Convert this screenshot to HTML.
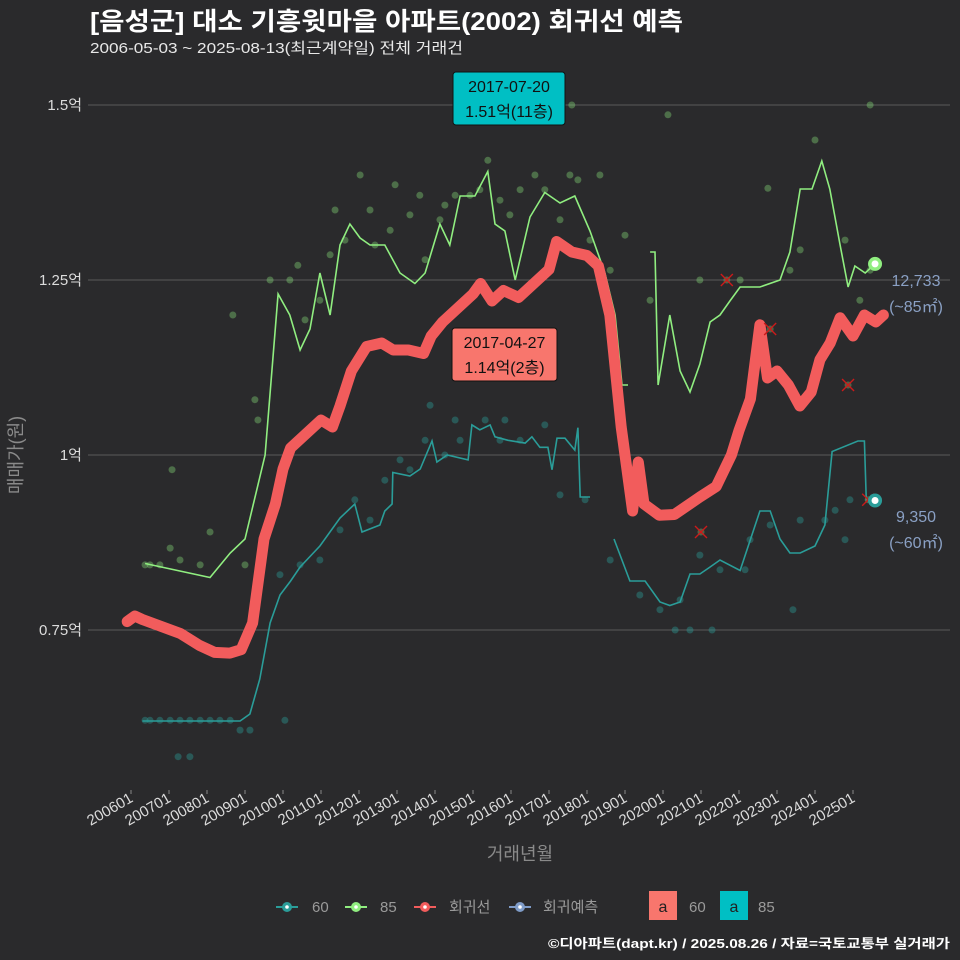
<!DOCTYPE html>
<html><head><meta charset="utf-8">
<style>
html,body{margin:0;padding:0;background:#2a2a2c;}
svg{display:block;font-family:"Liberation Sans","Noto Sans CJK KR",sans-serif;}
</style></head>
<body>
<svg id="chart" width="960" height="960" viewBox="0 0 960 960" xmlns="http://www.w3.org/2000/svg">
<rect width="960" height="960" fill="#2a2a2c"/>
<text x="90" y="30" font-size="25" font-weight="bold" fill="#ffffff" textLength="593" lengthAdjust="spacingAndGlyphs">[음성군] 대소 기흥윗마을 아파트(2002) 회귀선 예측</text>
<text x="90" y="53" font-size="15" fill="#e8e8e8" textLength="373" lengthAdjust="spacingAndGlyphs">2006-05-03 ~ 2025-08-13(최근계약일) 전체 거래건</text>
<g id="grid"></g>
<g id="yaxis"></g>
<g id="xaxis"></g>
<text transform="translate(22,455) rotate(-90)" text-anchor="middle" font-size="18" fill="#8a8a8a">매매가(원)</text>
<text x="520" y="860" text-anchor="middle" font-size="18" fill="#8a8a8a">거래년월</text>
<g id="marks"></g>
<g font-size="15" fill="#9a9a9a">
  <g><line x1="276" y1="907" x2="298" y2="907" stroke="#2a9d99" stroke-width="2"/><circle cx="287" cy="907" r="5" fill="#2a9d99"/><circle cx="287" cy="907" r="1.8" fill="#fff"/><text x="312" y="912">60</text></g>
  <g><line x1="345" y1="907" x2="367" y2="907" stroke="#90ee80" stroke-width="2"/><circle cx="356" cy="907" r="5" fill="#90ee80"/><circle cx="356" cy="907" r="1.8" fill="#fff"/><text x="380" y="912">85</text></g>
  <g><line x1="414" y1="907" x2="436" y2="907" stroke="#f25c5c" stroke-width="2"/><circle cx="425" cy="907" r="5" fill="#f25c5c"/><circle cx="425" cy="907" r="1.8" fill="#fff"/><text x="449" y="912">회귀선</text></g>
  <g><line x1="509" y1="907" x2="531" y2="907" stroke="#7f9cc8" stroke-width="2"/><circle cx="520" cy="907" r="5" fill="#7f9cc8"/><circle cx="520" cy="907" r="1.8" fill="#fff"/><text x="543" y="912">회귀예측</text></g>
  <g><rect x="649" y="891" width="28" height="29" fill="#f8766d"/><text x="663" y="912" text-anchor="middle" fill="#222" font-size="16">a</text><text x="689" y="912">60</text></g>
  <g><rect x="720" y="891" width="28" height="29" fill="#00bfc4"/><text x="734" y="912" text-anchor="middle" fill="#222" font-size="16">a</text><text x="758" y="912">85</text></g>
</g>
<text x="950" y="948" text-anchor="end" font-size="13" font-weight="bold" fill="#ffffff" textLength="402" lengthAdjust="spacingAndGlyphs">©디아파트(dapt.kr) / 2025.08.26 / 자료=국토교통부 실거래가</text>
</svg>
<script>
const yTicks=[0.75,1,1.25,1.5];
const yTickLabels=["0.75억","1억","1.25억","1.5억"];
const xTicks=[2006,2007,2008,2009,2010,2011,2012,2013,2014,2015,2016,2017,2018,2019,2020,2021,2022,2023,2024,2025];
const xTickLabels=["200601","200701","200801","200901","201001","201101","201201","201301","201401","201501","201601","201701","201801","201901","202001","202101","202201","202301","202401","202501"];

const regT=[2005.9,2006.1,2006.3,2006.8,2007.3,2007.8,2008.2,2008.6,2008.9,2009.2,2009.5,2009.8,2010.0,2010.2,2010.6,2011.0,2011.3,2011.5,2011.8,2012.2,2012.6,2012.9,2013.3,2013.7,2013.9,2014.2,2014.6,2015.0,2015.2,2015.5,2015.8,2016.2,2016.6,2017.0,2017.2,2017.6,2018.0,2018.3,2018.6,2018.9,2019.2,2019.35,2019.5,2019.9,2020.3,2020.97,2021.4,2021.8,2022.0,2022.3,2022.55,2022.75,2023.0,2023.3,2023.6,2023.9,2024.13,2024.4,2024.66,2025.0,2025.3,2025.6,2025.8];
const regV=[0.762,0.77,0.765,0.755,0.745,0.728,0.718,0.717,0.722,0.76,0.88,0.93,0.98,1.01,1.03,1.05,1.04,1.07,1.12,1.155,1.16,1.15,1.15,1.145,1.17,1.19,1.21,1.23,1.245,1.22,1.235,1.225,1.245,1.265,1.305,1.29,1.285,1.27,1.2,1.04,0.92,0.99,0.93,0.914,0.915,0.94,0.955,1.0,1.035,1.08,1.186,1.11,1.12,1.1,1.07,1.09,1.136,1.16,1.196,1.17,1.2,1.19,1.2];

const l85T=[2006.37,2008.08,2008.61,2009.0,2009.53,2009.87,2010.18,2010.45,2010.71,2010.97,2011.24,2011.5,2011.76,2012.03,2012.29,2012.68,2013.08,2013.47,2013.74,2014.13,2014.39,2014.66,2015.05,2015.39,2015.58,2015.84,2016.11,2016.5,2016.89,2017.29,2017.68,2018.08,2018.47,2018.74,2018.92,2019.08,null,2019.66,2019.79,2019.87,2020.18,2020.45,2020.71,2020.97,2021.24,2021.5,2021.76,2022.03,2022.55,2023.08,2023.34,2023.61,2023.92,2024.18,2024.39,2024.66,2024.87,2025.05,2025.32,2025.58];
const l85V=[0.845,0.825,0.86,0.88,1.0,1.23,1.2,1.15,1.18,1.26,1.2,1.3,1.33,1.31,1.3,1.3,1.26,1.245,1.26,1.33,1.3,1.37,1.37,1.405,1.33,1.32,1.25,1.34,1.375,1.36,1.37,1.32,1.26,1.2,1.1,1.1,null,1.29,1.29,1.1,1.2,1.12,1.09,1.13,1.19,1.2,1.22,1.24,1.24,1.25,1.29,1.38,1.38,1.42,1.38,1.3,1.24,1.27,1.26,1.273];

const l60T=[2006.3,2008.87,2009.13,2009.39,2009.66,2009.92,2010.2,2010.45,2010.97,2011.5,2011.89,2012.08,2012.55,2012.68,2012.87,2012.89,2013.34,2013.61,2013.92,2014.05,2014.32,2014.87,2014.97,2015.18,2015.45,2015.58,2015.92,2016.37,2016.55,2016.76,2016.97,2017.08,2017.21,2017.42,2017.68,2017.76,2017.82,2018.08,null,2018.71,2019.13,2019.53,2019.92,2020.18,2020.45,2020.71,2020.97,2021.24,2021.5,2022.03,2022.55,2022.82,2023.08,2023.34,2023.61,2024.0,2024.26,2024.45,2025.13,2025.3,2025.35,2025.58];
const l60V=[0.62,0.62,0.63,0.68,0.76,0.8,0.82,0.84,0.87,0.91,0.93,0.89,0.9,0.92,0.93,0.975,0.97,0.98,1.02,0.99,1.0,0.993,1.043,1.036,1.043,1.026,1.021,1.017,1.026,1.011,1.011,0.979,1.024,1.024,1.007,1.039,0.94,0.94,null,0.88,0.82,0.82,0.79,0.785,0.79,0.83,0.83,0.84,0.85,0.835,0.92,0.92,0.88,0.86,0.86,0.87,0.9,1.005,1.02,1.02,0.935,0.935];

const p85T=[2006.37,2006.5,2006.76,2007.03,2007.08,2007.29,2007.82,2008.08,2008.68,2009.0,2009.26,2009.34,2009.66,2010.18,2010.39,2010.58,2010.97,2011.24,2011.37,2011.63,2012.03,2012.29,2012.42,2012.82,2012.95,2013.34,2013.6,2013.74,2014.13,2014.26,2014.53,2014.92,2015.18,2015.39,2015.71,2015.97,2016.24,2016.63,2016.89,2017.29,2017.55,2017.6,2017.76,2018.08,2018.34,2018.61,2019.0,2019.66,2020.13,2020.97,2022.03,2022.76,2023.34,2023.61,2024.0,2024.79,2025.45,2025.45,2025.18];
const p85V=[0.843,0.843,0.843,0.867,0.979,0.85,0.843,0.89,1.2,0.843,1.079,1.05,1.25,1.25,1.271,1.193,1.221,1.286,1.35,1.307,1.4,1.35,1.3,1.321,1.386,1.343,1.371,1.279,1.336,1.357,1.371,1.371,1.379,1.421,1.364,1.343,1.379,1.4,1.379,1.336,1.4,1.5,1.393,1.307,1.4,1.264,1.314,1.221,1.486,1.25,1.25,1.381,1.264,1.293,1.45,1.307,1.264,1.5,1.221];

const p60T=[2006.37,2006.5,2006.76,2007.03,2007.29,2007.55,2007.82,2008.08,2008.34,2008.61,2008.87,2009.13,2007.24,2007.55,2010.05,2009.92,2010.45,2010.97,2011.5,2011.89,2012.29,2012.68,2013.08,2013.34,2013.74,2013.87,2014.26,2014.53,2014.66,2015.32,2015.71,2015.84,2016.24,2016.89,2017.29,2017.95,2018.61,2019.39,2019.92,2020.32,2020.45,2020.71,2020.97,2021.29,2021.5,2022.16,2022.29,2022.82,2023.42,2023.61,2024.26,2024.53,2024.79,2024.92];
const p60V=[0.621,0.621,0.621,0.621,0.621,0.621,0.621,0.621,0.621,0.621,0.607,0.607,0.569,0.569,0.621,0.829,0.843,0.85,0.893,0.936,0.907,0.964,0.993,0.979,1.021,1.071,1.0,1.05,1.021,1.05,1.021,1.05,1.021,1.043,0.943,0.936,0.85,0.8,0.779,0.75,0.793,0.75,0.857,0.75,0.836,0.836,0.879,0.9,0.779,0.907,0.907,0.921,0.879,0.936];

const xT=[2021.68,2022.82,2024.87,2021.0,2025.4];
const xV=[1.25,1.18,1.1,0.89,0.936];

const NS="http://www.w3.org/2000/svg";
function sx(t){return 131+(t-2006)*38;}
function sy(v){return 455-(v-1)*700;}
function mk(tag,attrs,parent){const e=document.createElementNS(NS,tag);for(const k in attrs)e.setAttribute(k,attrs[k]);parent.appendChild(e);return e;}
const grid=document.getElementById('grid'),yax=document.getElementById('yaxis'),xax=document.getElementById('xaxis'),marks=document.getElementById('marks');

yTicks.forEach((v,i)=>{
  const g=mk('line',{x1:88,x2:950,y1:sy(v),y2:sy(v),stroke:'#5a5a5a','stroke-width':1},grid);
  
  
  const t=mk('text',{x:82,y:sy(v)+5,'text-anchor':'end','font-size':15,fill:'#dcdcdc'},yax);
  t.textContent=yTickLabels[i];
  
  
});
xTicks.forEach((t,i)=>{
  const x=sx(t);
  const tk=mk('line',{x1:x,x2:x,y1:790,y2:794,stroke:'#888'},xax);
  
  
  const lb=mk('text',{transform:`translate(${x+3},801) rotate(-30)`,'text-anchor':'end','font-size':15,fill:'#dcdcdc'},xax);
  lb.textContent=xTickLabels[i];
  
  
});

function pathFrom(T,V){let d='',pen=false;for(let i=0;i<T.length;i++){if(T[i]===null){pen=false;continue;}d+=(pen?'L':'M')+sx(T[i]).toFixed(1)+','+sy(V[i]).toFixed(1);pen=true;}return d;}

p85T.forEach((t,i)=>{
  const c=mk('circle',{cx:sx(t),cy:sy(p85V[i]),r:3.5,fill:'#90ee80','fill-opacity':0.35},marks);
  
  
});
p60T.forEach((t,i)=>{
  const c=mk('circle',{cx:sx(t),cy:sy(p60V[i]),r:3.5,fill:'#2a9d99','fill-opacity':0.4},marks);
  
  
});
const line60=mk('path',{d:pathFrom(l60T,l60V),fill:'none',stroke:'#2a9d99','stroke-width':1.6},marks);


const line85=mk('path',{d:pathFrom(l85T,l85V),fill:'none',stroke:'#90ee80','stroke-width':1.6},marks);


const reg=mk('path',{d:pathFrom(regT,regV),fill:'none',stroke:'#f25c5c','stroke-width':11,'stroke-linejoin':'round','stroke-linecap':'round'},marks);



xT.forEach((t,i)=>{
  const x=sx(t),y=sy(xV[i]);
  const g=mk('g',{},marks);
  
  
  mk('circle',{cx:x,cy:y,r:3.5,fill:'#6a8a5a','fill-opacity':0.6},g);
  mk('path',{d:`M${x-6},${y-6}L${x+6},${y+6}M${x+6},${y-6}L${x-6},${y+6}`,stroke:'#cc1a1a','stroke-width':1.4},g);
});

const e85=mk('g',{},marks);


mk('circle',{cx:sx(l85T[l85T.length-1]),cy:sy(l85V[l85V.length-1]),r:7,fill:'#90ee80'},e85);
mk('circle',{cx:sx(l85T[l85T.length-1]),cy:sy(l85V[l85V.length-1]),r:3.5,fill:'#fff'},e85);
const e60=mk('g',{},marks);


mk('circle',{cx:sx(l60T[l60T.length-1]),cy:sy(l60V[l60V.length-1]),r:7,fill:'#2a9d99'},e60);
mk('circle',{cx:sx(l60T[l60T.length-1]),cy:sy(l60V[l60V.length-1]),r:3.5,fill:'#fff'},e60);

function endLabel(y1,a,b,x,name){
  const t1=mk('text',{x:x,y:y1,'text-anchor':'middle','font-size':16,fill:'#8aa0c4'},marks);t1.textContent=a;
  
  
  const t2=mk('text',{x:x,y:y1+26,'text-anchor':'middle','font-size':16,fill:'#8aa0c4'},marks);t2.textContent=b;
  
  
}
endLabel(286,'12,733','(~85㎡)',916,'end-label-85');
endLabel(522,'9,350','(~60㎡)',916,'end-label-60');

function callout(x,y,w,h,fill,l1,l2,name){
  const g=mk('g',{},marks);
  
  
  mk('rect',{x:x,y:y,width:w,height:h,rx:3,fill:fill,stroke:'#111','stroke-width':1},g);
  const a=mk('text',{x:x+w/2,y:y+20,'text-anchor':'middle','font-size':16,fill:'#111'},g);a.textContent=l1;
  const b=mk('text',{x:x+w/2,y:y+45,'text-anchor':'middle','font-size':16,fill:'#111'},g);b.textContent=l2;
}
callout(453,72,112,53,'#00bfc4','2017-07-20','1.51억(11층)','max-price-callout');
callout(452,328,105,53,'#f8766d','2017-04-27','1.14억(2층)','min-price-callout');
</script>
</body></html>
